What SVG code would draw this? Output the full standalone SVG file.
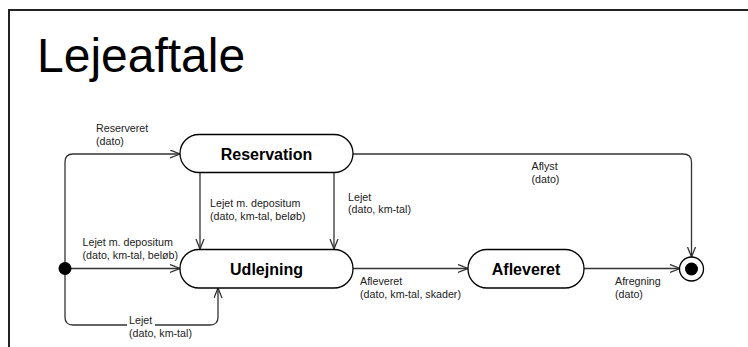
<svg xmlns="http://www.w3.org/2000/svg" width="748" height="347" viewBox="0 0 748 347">
<style>
.frame{fill:none;stroke:#222;stroke-width:2}
.title{font-family:"Liberation Sans",Arial,sans-serif;font-size:48px;fill:#000}
.node{fill:#fff;stroke:#000;stroke-width:1.3}
.nlabel{font-family:"Liberation Sans",Arial,sans-serif;font-size:16px;font-weight:bold;fill:#000;text-anchor:middle}
.edge{fill:none;stroke:#333;stroke-width:1.3}
.elabel{font-family:"Liberation Sans",Arial,sans-serif;font-size:10.7px;fill:#222}
</style>
<defs>
<marker id="arr" markerUnits="userSpaceOnUse" markerWidth="12" markerHeight="10" refX="10.5" refY="4.5" orient="auto">
<path d="M0.5,0.5 L10.5,4.5 L0.5,8.5" fill="none" stroke="#333" stroke-width="1.3"/>
</marker>
</defs>
<rect width="748" height="347" fill="#fff"/>
<path class="frame" d="M9,347 L9,10 L748,10"/>
<text class="title" x="37" y="72">Lejeaftale</text>
<g id="connectors">
<path class="edge" d="M65,268 L65,162 Q65,154 73,154 L180,154" marker-end="url(#arr)"/>
<path class="edge" d="M65,268.5 L180,268.5" marker-end="url(#arr)"/>
<path class="edge" d="M65,268 L65,317 Q65,325 73,325 L210,325 Q218,325 218,317 L218,288" marker-end="url(#arr)"/>
<path class="edge" d="M200,172 L200,249" marker-end="url(#arr)"/>
<path class="edge" d="M334,172 L334,249" marker-end="url(#arr)"/>
<path class="edge" d="M353,154 L683,154 Q691.5,154 691.5,162 L691.5,257" marker-end="url(#arr)"/>
<path class="edge" d="M353,268.5 L468,268.5" marker-end="url(#arr)"/>
<path class="edge" d="M584,268.5 L680,268.5" marker-end="url(#arr)"/>
<text class="elabel" x="96" y="132">Reserveret</text>
<text class="elabel" x="96" y="144.5">(dato)</text>
<text class="elabel" x="82.5" y="246">Lejet m. depositum</text>
<text class="elabel" x="82.5" y="258.5">(dato, km-tal, beløb)</text>
<rect x="127" y="315" width="28" height="13" fill="#fff"/>
<text class="elabel" x="129" y="324">Lejet</text>
<text class="elabel" x="129" y="336.5">(dato, km-tal)</text>
<text class="elabel" x="210" y="207">Lejet m. depositum</text>
<text class="elabel" x="210" y="219.5">(dato, km-tal, beløb)</text>
<text class="elabel" x="348" y="200.5">Lejet</text>
<text class="elabel" x="348" y="213">(dato, km-tal)</text>
<text class="elabel" x="531.5" y="169.5">Aflyst</text>
<text class="elabel" x="531.5" y="182.5">(dato)</text>
<text class="elabel" x="360" y="284.5">Afleveret</text>
<text class="elabel" x="360" y="297.5">(dato, km-tal, skader)</text>
<text class="elabel" x="615" y="284.5">Afregning</text>
<text class="elabel" x="615" y="297.5">(dato)</text>
</g>
<g id="initial">
<circle cx="65" cy="268.5" r="6.5" fill="#000"/>
</g>
<g id="reservation">
<rect class="node" x="180" y="134.5" width="173" height="38" rx="19" ry="19"/>
<text class="nlabel" x="266.5" y="160">Reservation</text>
</g>
<g id="udlejning">
<rect class="node" x="180" y="249.5" width="173" height="38.5" rx="19" ry="19"/>
<text class="nlabel" x="266.5" y="275">Udlejning</text>
</g>
<g id="afleveret">
<rect class="node" x="468" y="249.5" width="116" height="38.5" rx="19" ry="19"/>
<text class="nlabel" x="526" y="275">Afleveret</text>
</g>
<g id="final">
<circle cx="691.5" cy="269" r="12" fill="#fff" stroke="#000" stroke-width="1.3"/>
<circle cx="691.5" cy="269" r="6.5" fill="#000"/>
</g>
</svg>
